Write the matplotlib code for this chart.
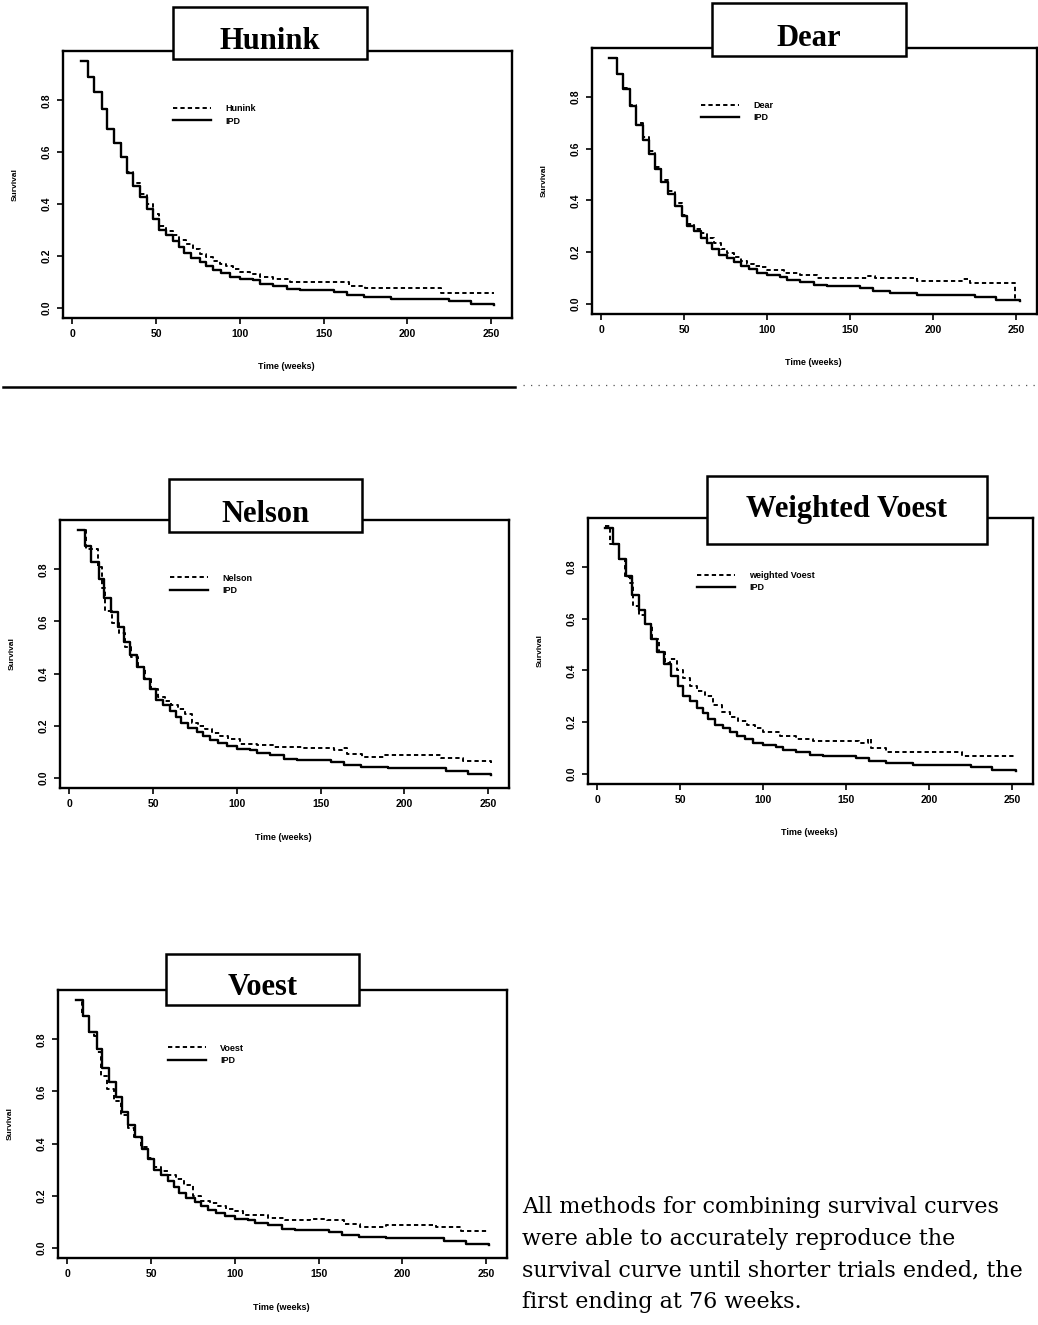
import matplotlib
matplotlib.use("Agg")
import matplotlib.pyplot as plt
from matplotlib.patches import Rectangle
from matplotlib.lines import Line2D

W, H, DPI = 1038, 1325, 100

# Kaplan-Meier estimate from the individual patient data (IPD)
ipd_time = [5, 9.5, 13, 17.5, 21, 25, 29, 32.5, 36, 40.5, 44.5, 48.5, 52, 56, 60,
            64, 67, 71, 76, 80, 84, 89, 94, 100, 108, 112, 120, 128, 136, 156,
            164, 174, 190, 225, 238, 252]
ipd_surv = [0.95, 0.89, 0.83, 0.765, 0.69, 0.635, 0.58, 0.52, 0.47, 0.425, 0.38,
            0.34, 0.30, 0.28, 0.256, 0.233, 0.211, 0.19, 0.175, 0.16, 0.146,
            0.133, 0.12, 0.11, 0.105, 0.093, 0.085, 0.073, 0.068, 0.06, 0.05,
            0.04, 0.035, 0.025, 0.015, 0.01]

# Pooled survival curves from each combining method
hunink_time = [5, 9.5, 13, 17.5, 21, 25, 29, 32.5, 36, 40.5, 44.5, 48.5, 52, 56,
               60, 64, 68, 72, 76, 80, 84, 88, 92, 96, 100, 106, 112, 120, 130,
               165, 175, 220, 252]
hunink_surv = [0.95, 0.89, 0.83, 0.765, 0.69, 0.635, 0.58, 0.525, 0.48, 0.44,
               0.40, 0.36, 0.315, 0.295, 0.28, 0.262, 0.245, 0.225, 0.205, 0.195,
               0.18, 0.17, 0.16, 0.148, 0.137, 0.128, 0.12, 0.11, 0.099, 0.083,
               0.077, 0.058, 0.058]

dear_time = [5, 9.5, 13, 17.5, 21, 25, 29, 32.5, 36, 40.5, 44.5, 48.5, 52, 56,
             60, 64, 68, 72, 76, 80, 84, 88, 92, 96, 100, 110, 120, 130, 160,
             165, 190, 218, 222, 249.5, 252]
dear_surv = [0.95, 0.89, 0.835, 0.77, 0.70, 0.645, 0.59, 0.53, 0.48, 0.435,
             0.39, 0.345, 0.31, 0.29, 0.275, 0.255, 0.235, 0.21, 0.195, 0.18,
             0.165, 0.155, 0.147, 0.143, 0.13, 0.12, 0.11, 0.10, 0.107, 0.10,
             0.086, 0.094, 0.08, 0.013, 0.01]

nelson_time = [5, 10, 17, 19.5, 21.5, 25.5, 29.5, 33.5, 37, 41, 45, 49, 53, 57,
               61, 65, 69, 73, 77, 81, 85, 90, 95, 102, 112, 122, 140, 158, 163,
               166, 175, 188, 222, 235, 252]
nelson_surv = [0.95, 0.88, 0.81, 0.73, 0.64, 0.595, 0.555, 0.50, 0.465, 0.425,
               0.38, 0.34, 0.31, 0.295, 0.28, 0.265, 0.245, 0.21, 0.2, 0.185,
               0.17, 0.16, 0.147, 0.131, 0.125, 0.118, 0.112, 0.105, 0.112, 0.09,
               0.08, 0.086, 0.077, 0.064, 0.055]

wvoest_time = [5, 8, 13, 17, 20, 21.5, 25, 29, 33, 37, 41, 44, 48, 52, 56, 60,
               65, 70, 75, 80, 85, 90, 95, 100, 110, 120, 130, 158, 163, 165, 174,
               220, 252]
wvoest_surv = [0.96, 0.89, 0.83, 0.76, 0.74, 0.65, 0.615, 0.58, 0.52, 0.47,
               0.43, 0.445, 0.40, 0.37, 0.34, 0.32, 0.30, 0.265, 0.24, 0.22,
               0.205, 0.19, 0.175, 0.16, 0.145, 0.135, 0.125, 0.12, 0.135, 0.10,
               0.085, 0.07, 0.07]

voest_time = [5, 9, 13, 16, 17.5, 20, 24, 28, 32, 36, 40, 44, 48, 52, 56, 60, 65,
              70, 75, 80, 85, 90, 95, 100, 105, 120, 130, 145, 155, 165, 175,
              190, 220, 235, 252]
voest_surv = [0.95, 0.89, 0.83, 0.815, 0.75, 0.66, 0.61, 0.565, 0.51, 0.46,
              0.425, 0.385, 0.345, 0.31, 0.295, 0.28, 0.265, 0.24, 0.2, 0.18,
              0.17, 0.16, 0.15, 0.14, 0.125, 0.115, 0.105, 0.11, 0.105, 0.09,
              0.08, 0.085, 0.08, 0.065, 0.065]

titles = ["Hunink", "Dear", "Nelson", "Weighted Voest", "Voest"]
legend_names = ["Hunink", "Dear", "Nelson", "weighted Voest", "Voest"]
method_times = [hunink_time, dear_time, nelson_time, wvoest_time, voest_time]
method_survs = [hunink_surv, dear_surv, nelson_surv, wvoest_surv, voest_surv]

x_ticks = [0, 50, 100, 150, 200, 250]
y_ticks = [0.0, 0.2, 0.4, 0.6, 0.8]
y_tick_labels = ["0.0", "0.2", "0.4", "0.6", "0.8"]

# panel frames in pixels: left, top, right, bottom
axes_px = [(63, 51, 512, 318), (592, 48, 1037, 314), (60, 520, 509, 788),
           (588, 518, 1033, 784), (58, 990, 507, 1258)]
# heading boxes in pixels: left, top, right, bottom, text baseline
title_px = [(173, 7, 367, 59, 49), (712, 3, 906, 56, 46), (169, 479, 362, 532, 522),
            (707, 476, 987, 544, 517), (166, 954, 359, 1005, 995)]

fig = plt.figure(figsize=(W / DPI, H / DPI), dpi=DPI)
fig.patch.set_facecolor("white")

sans = ["Liberation Sans", "DejaVu Sans"]
serif = ["Liberation Serif", "DejaVu Serif"]


def fx(x):
    return x / W


def fy(y):
    return 1 - y / H


for i in range(5):
    l, t, r, b = axes_px[i]
    ax = fig.add_axes([fx(l), fy(b), (r - l) / W, (b - t) / H])
    ax.plot(method_times[i], method_survs[i], drawstyle="steps-post", color="black",
            lw=1.4, linestyle=(0, (2.2, 1.6)), label=legend_names[i])
    ax.plot(ipd_time, ipd_surv, drawstyle="steps-post", color="black", lw=1.7,
            label="IPD")
    ax.set_xlim(-5.5, 262.5)
    ax.set_ylim(-0.04, 0.99)
    ax.set_xticks(x_ticks)
    ax.set_xticklabels([str(v) for v in x_ticks], fontfamily=sans, fontweight="bold",
                       fontsize=7.5)
    ax.set_yticks(y_ticks)
    ax.set_yticklabels(y_tick_labels, fontfamily=sans, fontweight="bold", fontsize=7.5,
                       rotation=90, va="center")
    ax.tick_params(direction="out", length=4, width=1.2, pad=4, color="black")
    for sp in ax.spines.values():
        sp.set_linewidth(1.7)
    ax.text(0.497, -0.183, "Time (weeks)", transform=ax.transAxes, ha="center",
            va="center", fontsize=6.5, fontweight="bold", fontfamily=sans)
    ax.text(-0.107, 0.5, "Survival", transform=ax.transAxes, ha="center",
            va="center", rotation=90, fontsize=6, fontweight="bold", fontfamily=sans)
    ax.legend(loc="upper left", bbox_to_anchor=(0.245, 0.80), frameon=False,
              prop={"family": sans, "size": 6.5, "weight": "bold"},
              handlelength=4.2, handletextpad=1.6, labelspacing=0.35,
              borderpad=0, borderaxespad=0)

    # heading box overlapping the top of the frame
    bl, bt, br, bb, base = title_px[i]
    fig.add_artist(Rectangle((fx(bl), fy(bb)), (br - bl) / W, (bb - bt) / H,
                             transform=fig.transFigure, facecolor="white",
                             edgecolor="black", lw=1.8, zorder=5))
    fig.text(fx((bl + br) / 2), fy(base), titles[i], ha="center", va="baseline",
             fontsize=22, fontweight="bold", fontfamily=serif, zorder=6)

# separator rules between rows
fig.add_artist(Line2D([fx(3), fx(515)], [fy(387), fy(387)], color="black", lw=1.8))
fig.add_artist(Line2D([fx(523), fx(1038)], [fy(385), fy(385)], color="#555555",
                      lw=0.9, linestyle=(0, (1, 5))))

note_lines = ["All methods for combining survival curves",
              "were able to accurately reproduce the",
              "survival curve until shorter trials ended, the",
              "first ending at 76 weeks."]
for k, line in enumerate(note_lines):
    fig.text(fx(522), fy(1213 + 31.7 * k), line, ha="left", va="baseline",
             fontsize=16, fontfamily=["DejaVu Serif"])

fig.savefig("out.png", dpi=DPI, facecolor="white")
